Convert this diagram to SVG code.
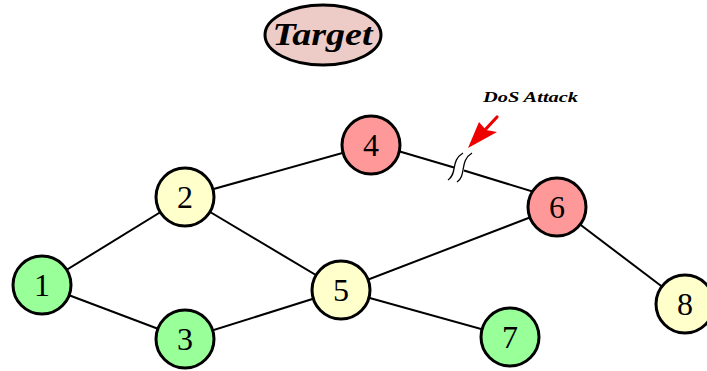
<svg xmlns="http://www.w3.org/2000/svg" width="707" height="371" viewBox="0 0 707 371">
  <style>
    .edge { stroke: #000; stroke-width: 2; fill: none; }
    .node circle { stroke: #000; stroke-width: 3; }
    .green { fill: #99ff99; }
    .yellow { fill: #ffffcc; }
    .red { fill: #ff9999; }
    .num { font-family: "Liberation Serif", "DejaVu Serif", serif; font-size: 32px; text-anchor: middle; fill: #000; }
    .label { font-family: "Liberation Serif", "DejaVu Serif", serif; font-weight: bold; font-style: italic; fill: #000; }
    .wave { stroke: #000; stroke-width: 1.3; fill: none; }
  </style>
  <rect width="707" height="371" fill="#fff"/>

  <g id="connectors">
    <line class="edge" x1="42" y1="285" x2="185" y2="197"/>
    <line class="edge" x1="42" y1="285" x2="185" y2="339"/>
    <line class="edge" x1="185" y1="197" x2="371" y2="145"/>
    <line class="edge" x1="185" y1="197" x2="341" y2="290"/>
    <line class="edge" x1="185" y1="339" x2="341" y2="290"/>
    <line class="edge" x1="341" y1="290" x2="557" y2="207"/>
    <line class="edge" x1="341" y1="290" x2="510" y2="337"/>
    <line class="edge" x1="557" y1="207" x2="685" y2="304"/>
    <!-- broken link 4-6 -->
    <line class="edge" x1="371" y1="143" x2="454" y2="167.5"/>
    <line class="edge" x1="464" y1="170.5" x2="557" y2="199"/>
    <path class="wave" d="M448,180 C458,173 450,161 463,153"/>
    <path class="wave" d="M457,182 C467,175 459,161 472,153"/>
  </g>

  <g id="attack">
    <line x1="497" y1="117" x2="484" y2="131" stroke="#ee0000" stroke-width="3.2" stroke-linecap="round"/>
    <polygon points="468,148 479,122 486,130 497,132" fill="#ee0000"/>
    <text class="label" x="483" y="102" font-size="15" textLength="95" lengthAdjust="spacingAndGlyphs">DoS Attack</text>
  </g>

  <g id="target">
    <ellipse cx="323" cy="35" rx="58" ry="30" fill="#edccc8" stroke="#000" stroke-width="3"/>
    <text class="label" x="322.5" y="45" font-size="31" text-anchor="middle" textLength="100" lengthAdjust="spacingAndGlyphs">Target</text>
  </g>

  <g id="n1" class="node"><circle class="green" cx="42" cy="285" r="29"/><text class="num" x="42" y="296">1</text></g>
  <g id="n2" class="node"><circle class="yellow" cx="185" cy="197" r="29"/><text class="num" x="185" y="208">2</text></g>
  <g id="n3" class="node"><circle class="green" cx="185" cy="339" r="29"/><text class="num" x="185" y="350">3</text></g>
  <g id="n4" class="node"><circle class="red" cx="371" cy="145" r="29"/><text class="num" x="371" y="156">4</text></g>
  <g id="n5" class="node"><circle class="yellow" cx="341" cy="290" r="29"/><text class="num" x="341" y="301">5</text></g>
  <g id="n6" class="node"><circle class="red" cx="557" cy="207" r="29"/><text class="num" x="557" y="218">6</text></g>
  <g id="n7" class="node"><circle class="green" cx="510" cy="337" r="29"/><text class="num" x="510" y="348">7</text></g>
  <g id="n8" class="node"><circle class="yellow" cx="685" cy="304" r="29"/><text class="num" x="685" y="315">8</text></g>
</svg>
